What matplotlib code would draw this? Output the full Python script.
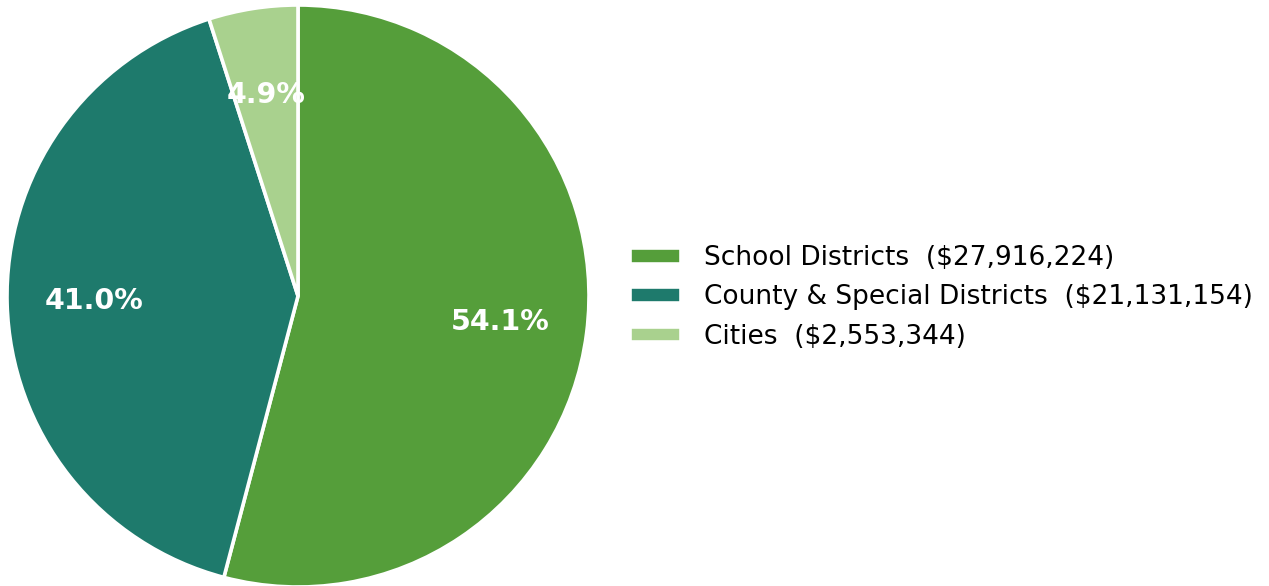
import matplotlib.pyplot as plt

# 各类机构的分配金额
labels = ['School Districts', 'County & Special Districts', 'Cities']
amounts = [27916224, 21131154, 2553344]
colors = ['#559e3a', '#1e7a6c', '#a9d18e']

W, H = 1269, 586
fig = plt.figure(figsize=(W / 100, H / 100), dpi=100)

# 饼图所在的坐标轴，中心和半径按像素换算
cx, cy, r = 298, 290, 291
lim = 1.02
half = r * lim
ax = fig.add_axes([(cx - half) / W, (cy - half) / H, 2 * half / W, 2 * half / H])

wedges, texts, autotexts = ax.pie(
    amounts, colors=colors, startangle=90, counterclock=False,
    autopct='%1.1f%%', pctdistance=0.7,
    wedgeprops=dict(edgecolor='white', linewidth=2.6),
    textprops=dict(color='white', fontsize=20.5, fontweight='bold'))
ax.set_xlim(-lim, lim)
ax.set_ylim(-lim, lim)
ax.set_aspect('equal')

legend_labels = ['%s  (${:,})'.replace('%s', n).format(v) for n, v in zip(labels, amounts)]
fig.legend(wedges, legend_labels, loc='center left',
           bbox_to_anchor=(606 / W, 0.5 - 4.5 / H), frameon=False,
           fontsize=19, handlelength=1.94, handleheight=0.53,
           handletextpad=0.87, labelspacing=0.5)

fig.savefig('out.png', dpi=100)
